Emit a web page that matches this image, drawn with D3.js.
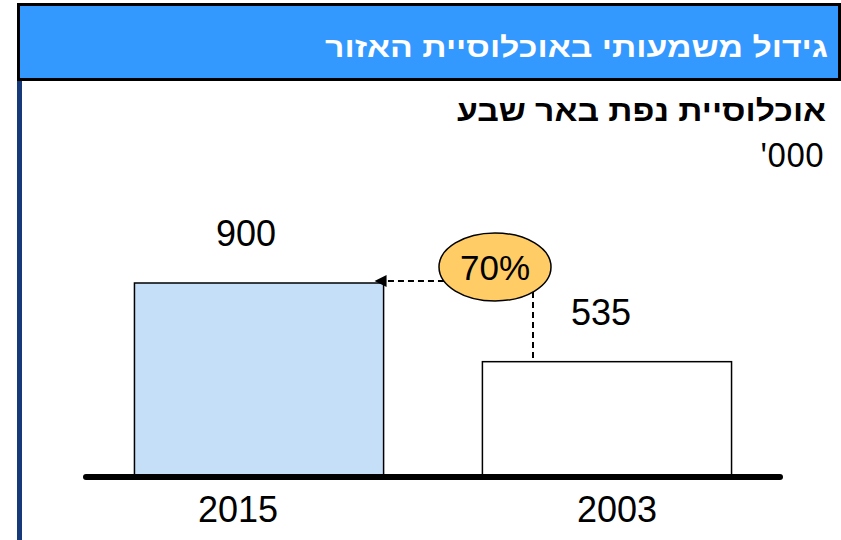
<!DOCTYPE html>
<html>
<head>
<meta charset="utf-8">
<script src="https://cdn.jsdelivr.net/npm/d3@7"></script>
<style>
  body { margin: 0; background: #fff; }
  svg { display: block; }
</style>
</head>
<body>
<svg id="chart" width="841" height="540"></svg>
<script>
// Data
const years = ['2015', '2003'];
const population = [900, 535];
const growthLabel = '70%';
const titleText = 'גידול משמעותי באוכלוסיית האזור';
const subtitleText = 'אוכלוסיית נפת באר שבע';
const unitText = "'000";

const svg = d3.select('#chart');

// frame: header band + left rule
svg.append('rect')
  .attr('x', 18.5).attr('y', 4.5)
  .attr('width', 821).attr('height', 75)
  .attr('fill', '#3399ff')
  .attr('stroke', '#000')
  .attr('stroke-width', 3);

svg.append('line')
  .attr('x1', 19.5).attr('x2', 19.5)
  .attr('y1', 81).attr('y2', 540)
  .attr('stroke', '#16397a')
  .attr('stroke-width', 5);

svg.append('text')
  .attr('x', 828).attr('y', 57)
  .attr('text-anchor', 'end')
  .attr('fill', '#fff')
  .style('font-family', 'Liberation Sans, Arial, sans-serif')
  .style('font-weight', 'bold')
  .style('font-size', '28px')
  .attr('textLength', 503)
  .attr('lengthAdjust', 'spacingAndGlyphs')
  .text(titleText);

svg.append('text')
  .attr('x', 826).attr('y', 121)
  .attr('text-anchor', 'end')
  .attr('fill', '#000')
  .style('font-family', 'Liberation Sans, Arial, sans-serif')
  .style('font-weight', 'bold')
  .style('font-size', '29px')
  .attr('textLength', 369)
  .attr('lengthAdjust', 'spacingAndGlyphs')
  .text(subtitleText);

svg.append('text')
  .attr('x', 824).attr('y', 167)
  .attr('text-anchor', 'end')
  .attr('direction', 'ltr')
  .attr('fill', '#000')
  .style('font-family', 'Noto Sans, sans-serif')
  .style('font-size', '33px')
  .text(unitText);

// Scales
const x = d3.scaleBand()
  .domain(years)
  .range([84, 782])
  .paddingInner(0.284)
  .paddingOuter(0.145);

const baseY = 477;
const y = d3.scaleLinear()
  .domain([0, 900])
  .range([baseY, 283]);

// label positions (labels sit a bit off the bar centres in the original)
const yearX = d3.scalePoint().domain(years).range([238, 617]);
const valueX = d3.scalePoint().domain(years).range([246, 601]);

const data = years.map((yr, i) => ({ year: yr, value: population[i] }));

const fills = { '2015': '#c5dff9', '2003': '#ffffff' };

svg.append('g')
  .selectAll('rect')
  .data(data)
  .enter()
  .append('rect')
  .attr('x', d => x(d.year))
  .attr('y', d => y(d.value))
  .attr('width', x.bandwidth())
  .attr('height', d => baseY - y(d.value))
  .attr('fill', d => fills[d.year])
  .attr('stroke', '#000')
  .attr('stroke-width', 1.5);

// baseline
svg.append('line')
  .attr('x1', 86).attr('x2', 780)
  .attr('y1', baseY).attr('y2', baseY)
  .attr('stroke', '#000')
  .attr('stroke-width', 6)
  .attr('stroke-linecap', 'round');

// value labels
svg.append('g')
  .selectAll('text')
  .data(data)
  .enter()
  .append('text')
  .attr('x', d => valueX(d.year))
  .attr('y', d => y(d.value) - 37)
  .attr('text-anchor', 'middle')
  .style('font-family', 'Liberation Sans, Arial, sans-serif')
  .style('font-size', '36px')
  .text(d => d.value);

// year labels
svg.append('g')
  .selectAll('text')
  .data(data)
  .enter()
  .append('text')
  .attr('x', d => yearX(d.year))
  .attr('y', 522)
  .attr('text-anchor', 'middle')
  .style('font-family', 'Liberation Sans, Arial, sans-serif')
  .style('font-size', '36px')
  .text(d => d.year);

// growth connector
svg.append('defs').append('marker')
  .attr('id', 'arrow')
  .attr('viewBox', '0 0 10 10')
  .attr('refX', 10).attr('refY', 5)
  .attr('markerWidth', 15).attr('markerHeight', 12)
  .attr('markerUnits', 'userSpaceOnUse')
  .attr('orient', 'auto')
  .append('path')
  .attr('d', 'M0,0 L10,5 L0,10 Z')
  .attr('fill', '#000');

const ell = { cx: 495, cy: 267, rx: 56, ry: 34 };
const vx = 533;
const hy = y(population[0]) - 2;

svg.append('line')
  .attr('x1', vx).attr('x2', vx)
  .attr('y1', ell.cy + ell.ry * Math.sqrt(1 - ((vx - ell.cx) / ell.rx) ** 2))
  .attr('y2', y(population[1]))
  .attr('stroke', '#000')
  .attr('stroke-width', 2)
  .attr('stroke-dasharray', '6,4');

svg.append('line')
  .attr('x1', ell.cx - ell.rx * Math.sqrt(1 - ((hy - ell.cy) / ell.ry) ** 2))
  .attr('x2', x('2015') + x.bandwidth() - 9)
  .attr('y1', hy).attr('y2', hy)
  .attr('stroke', '#000')
  .attr('stroke-width', 2)
  .attr('stroke-dasharray', '6,4')
  .attr('marker-end', 'url(#arrow)');

svg.append('ellipse')
  .attr('cx', ell.cx).attr('cy', ell.cy)
  .attr('rx', ell.rx).attr('ry', ell.ry)
  .attr('fill', '#ffcc66')
  .attr('stroke', '#000')
  .attr('stroke-width', 1.5);

svg.append('text')
  .attr('x', ell.cx).attr('y', ell.cy + 13)
  .attr('text-anchor', 'middle')
  .style('font-family', 'Liberation Sans, Arial, sans-serif')
  .style('font-size', '35px')
  .text(growthLabel);
</script>
</body>
</html>
